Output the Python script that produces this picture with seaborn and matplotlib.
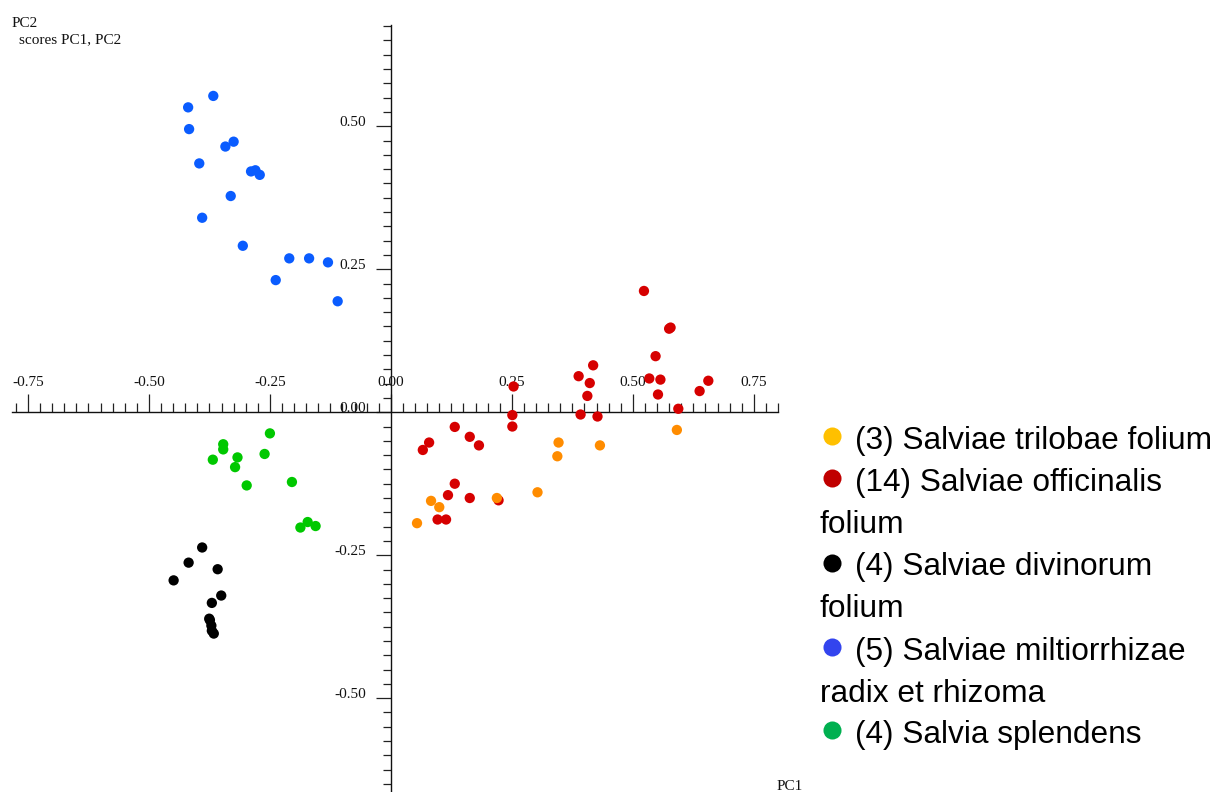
import numpy as np
import pandas as pd
import matplotlib
matplotlib.use("Agg")
import matplotlib.pyplot as plt
import seaborn as sns
from matplotlib.ticker import FixedLocator, MultipleLocator
from matplotlib.lines import Line2D

# ---------------- data (PCA scores) ----------------
officinalis_pc1 = [0.523, 0.575, 0.578, 0.547, 0.418, 0.388, 0.411, 0.534, 0.557, 0.656,
                   0.638, 0.406, 0.552, 0.2535, 0.594, 0.251, 0.392, 0.427, 0.251, 0.132,
                   0.163, 0.182, 0.079, 0.066, 0.132, 0.118, 0.163, 0.2225, 0.0965, 0.114]
officinalis_pc2 = [0.212, 0.146, 0.148, 0.098, 0.082, 0.063, 0.051, 0.059, 0.057, 0.055,
                   0.037, 0.0285, 0.031, 0.045, 0.006, -0.005, -0.004, -0.0075, -0.025, -0.0257,
                   -0.043, -0.058, -0.053, -0.066, -0.125, -0.145, -0.150, -0.154, -0.1876, -0.1876]

trilobae_pc1 = [0.591, 0.3465, 0.432, 0.344, 0.303, 0.219, 0.083, 0.100, 0.054]
trilobae_pc2 = [-0.031, -0.053, -0.058, -0.077, -0.140, -0.150, -0.155, -0.166, -0.194]

miltiorrhizae_pc1 = [-0.367, -0.419, -0.417, -0.325, -0.342, -0.396, -0.289, -0.280, -0.271,
                     -0.331, -0.390, -0.306, -0.210, -0.169, -0.130, -0.238, -0.110]
miltiorrhizae_pc2 = [0.553, 0.533, 0.495, 0.473, 0.4645, 0.435, 0.421, 0.423, 0.415,
                     0.378, 0.340, 0.291, 0.269, 0.269, 0.262, 0.231, 0.194]

splendens_pc1 = [-0.250, -0.3465, -0.3465, -0.261, -0.317, -0.368, -0.322, -0.2045, -0.298,
                 -0.172, -0.187, -0.1556]
splendens_pc2 = [-0.037, -0.056, -0.065, -0.073, -0.079, -0.083, -0.096, -0.122, -0.128,
                 -0.192, -0.2016, -0.199]

divinorum_pc1 = [-0.390, -0.418, -0.358, -0.449, -0.3506, -0.370, -0.3754, -0.374, -0.371,
                 -0.370, -0.366]
divinorum_pc2 = [-0.2365, -0.263, -0.2745, -0.294, -0.3205, -0.3334, -0.361, -0.3636, -0.373,
                 -0.382, -0.387]

group_names = ["miltiorrhizae", "splendens", "divinorum", "officinalis", "trilobae"]
point_colors = ["#0a5cff", "#00c800", "#000000", "#d60000", "#ff8c00"]

legend_labels = ["(3) Salviae trilobae folium",
                 "(14) Salviae officinalis",
                 "folium",
                 "(4) Salviae divinorum",
                 "folium",
                 "(5) Salviae miltiorrhizae",
                 "radix et rhizoma",
                 "(4) Salvia splendens"]
legend_colors = ["#ffc000", "#c00000", None, "#000000", None, "#3344ee", None, "#00b050"]

x_ticks = [-0.75, -0.50, -0.25, 0.00, 0.25, 0.50, 0.75]
x_ticklabels = ["-0.75", "-0.50", "-0.25", "0.00", "0.25", "0.50", "0.75"]
y_ticks = [-0.50, -0.25, 0.00, 0.25, 0.50]
y_ticklabels = ["-0.50", "-0.25", "0.00", "0.25", "0.50"]

# ---------------- frame ----------------
xs = {"miltiorrhizae": (miltiorrhizae_pc1, miltiorrhizae_pc2),
      "splendens": (splendens_pc1, splendens_pc2),
      "divinorum": (divinorum_pc1, divinorum_pc2),
      "officinalis": (officinalis_pc1, officinalis_pc2),
      "trilobae": (trilobae_pc1, trilobae_pc2)}
rows = []
for g in group_names:
    for a, b in zip(*xs[g]):
        rows.append({"PC1": a, "PC2": b, "group": g})
df = pd.DataFrame(rows)

sns.set_style("white")
plt.rcParams["font.family"] = ["Liberation Serif", "DejaVu Serif"]

W, H = 1218, 792
fig = plt.figure(figsize=(W / 100, H / 100), dpi=100)
ax = fig.add_axes([12 / W, 0.0, 766 / W, 767 / H])
ax.set_facecolor("none")

sns.scatterplot(data=df, x="PC1", y="PC2", hue="group", hue_order=group_names,
                palette=dict(zip(group_names, point_colors)), s=55, linewidth=0,
                legend=False, ax=ax, zorder=3, clip_on=False)

ax.set_xlim(-0.783, 0.800)
ax.set_ylim(-0.664, 0.677)
ax.set_xlabel("")
ax.set_ylabel("")

for s in ["top", "right"]:
    ax.spines[s].set_visible(False)
ax.spines["left"].set_position(("data", 0))
ax.spines["bottom"].set_position(("data", 0))
for s in ["left", "bottom"]:
    ax.spines[s].set_color("#111111")
    ax.spines[s].set_linewidth(1.0)

ax.xaxis.set_major_locator(FixedLocator(x_ticks))
ax.xaxis.set_minor_locator(MultipleLocator(0.025))
ax.yaxis.set_major_locator(FixedLocator(y_ticks))
ax.yaxis.set_minor_locator(MultipleLocator(0.025))
ax.set_xticklabels(x_ticklabels)
ax.set_yticklabels(y_ticklabels)

ax.tick_params(axis="x", which="major", direction="in", length=13, width=0.9,
               color="#222222", pad=-26, labelsize=11, labelcolor="#111111",
               bottom=True, top=False)
ax.tick_params(axis="x", which="minor", direction="in", length=6.5, width=0.9,
               color="#222222", bottom=True, top=False)
ax.tick_params(axis="y", which="major", direction="out", length=11, width=0.9,
               color="#222222", pad=7, labelsize=11, labelcolor="#111111",
               left=True, right=False)
ax.tick_params(axis="y", which="minor", direction="out", length=5.5, width=0.9,
               color="#222222", left=True, right=False)
for lab in ax.get_yticklabels():
    lab.set_va("baseline")
for lab in ax.get_xticklabels():
    lab.set_va("top")

# ---------------- titles ----------------
serif = ["Liberation Serif", "DejaVu Serif"]
fig.text(12 / W, 1 - 27 / H, "PC2", fontsize=11, family=serif, color="#111111", va="baseline")
fig.text(19 / W, 1 - 43 / H, "scores PC1, PC2", fontsize=11, family=serif, color="#111111",
         va="baseline")
fig.text(777 / W, 1 - 790 / H, "PC1", fontsize=11, family=serif, color="#111111", va="baseline")

# ---------------- legend block ----------------
sans = ["Liberation Sans", "DejaVu Sans"]
baselines = [449, 491, 533, 575.5, 617, 660, 702, 743]
for lab, col, yb in zip(legend_labels, legend_colors, baselines):
    if col is not None:
        fig.add_artist(Line2D([831.5 / W], [1 - (yb - 13) / H], transform=fig.transFigure,
                              marker="o", ms=13, color=col, markeredgewidth=0,
                              linestyle="none"))
        x0 = 855
    else:
        x0 = 820
    fig.text(x0 / W, 1 - yb / H, lab, fontsize=22.8, family=sans, color="#000000",
             va="baseline")

fig.savefig("out.png", dpi=100)
